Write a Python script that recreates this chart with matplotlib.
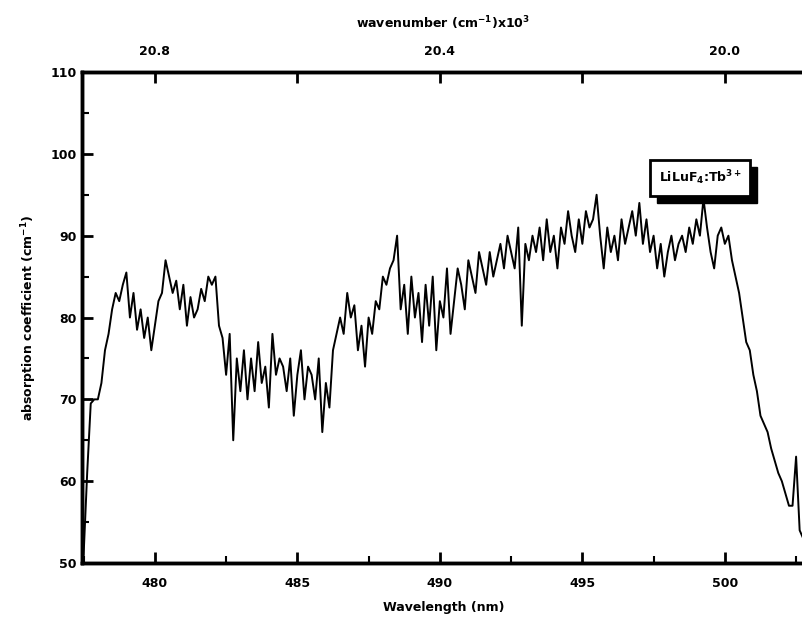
import numpy as np
import matplotlib

matplotlib.use('Agg')
import matplotlib.pyplot as plt
from matplotlib.ticker import MultipleLocator, FixedLocator, FixedFormatter
from matplotlib.patches import Rectangle

# wavelength grid (nm), one reading every 0.125 nm
wl_start = 477.5
wl_step = 0.125

# absorption, one row per nm
absorption = [
    51, 61, 69.5, 70, 70, 72, 76, 78,          # 477.5
    81, 83, 82, 84, 85.5, 80, 83, 78.5,        # 478.5
    81, 77.5, 80, 76, 79, 82, 83, 87,          # 479.5
    85, 83, 84.5, 81, 84, 79, 82.5, 80,        # 480.5
    81, 83.5, 82, 85, 84, 85, 79, 77.5,        # 481.5
    73, 78, 65, 75, 71, 76, 70, 75,            # 482.5
    71, 77, 72, 74, 69, 78, 73, 75,            # 483.5
    74, 71, 75, 68, 73, 76, 70, 74,            # 484.5
    73, 70, 75, 66, 72, 69, 76, 78,            # 485.5
    80, 78, 83, 80, 81.5, 76, 79, 74,          # 486.5
    80, 78, 82, 81, 85, 84, 86, 87,            # 487.5
    90, 81, 84, 78, 85, 80, 83, 77,            # 488.5
    84, 79, 85, 76, 82, 80, 86, 78,            # 489.5
    82, 86, 84, 81, 87, 85, 83, 88,            # 490.5
    86, 84, 88, 85, 87, 89, 86, 90,            # 491.5
    88, 86, 91, 79, 89, 87, 90, 88,            # 492.5
    91, 87, 92, 88, 90, 86, 91, 89,            # 493.5
    93, 90, 88, 92, 89, 93, 91, 92,            # 494.5
    95, 90, 86, 91, 88, 90, 87, 92,            # 495.5
    89, 91, 93, 90, 94, 89, 92, 88,            # 496.5
    90, 86, 89, 85, 88, 90, 87, 89,            # 497.5
    90, 88, 91, 89, 92, 90, 94.5, 91,          # 498.5
    88, 86, 90, 91, 89, 90, 87, 85,            # 499.5
    83, 80, 77, 76, 73, 71, 68, 67,            # 500.5
    66, 64, 62.5, 61, 60, 58.5, 57, 57,        # 501.5
    63, 54, 53,                                # 502.5
]

bottom_ticks = [480, 485, 490, 495, 500]
top_ticks = [480, 490, 500]
sample_label = 'LiLuF$_4$:Tb$^{3+}$'

wavelength = wl_start + wl_step * np.arange(len(absorption))
top_labels = ['%.1f' % (1e7 / w / 1e3) for w in top_ticks]

plt.rcParams['font.family'] = ['DejaVu Sans']
plt.rcParams['font.weight'] = 'bold'

fig = plt.figure(figsize=(8.03, 6.30), dpi=100)
ax = fig.add_axes([0.102, 0.1063, 0.9004, 0.7794])

ax.plot(wavelength, absorption, color='black', linewidth=1.4)

ax.set_xlim(477.44, 502.81)
ax.set_ylim(50, 110)

ax.xaxis.set_major_locator(FixedLocator(bottom_ticks))
ax.xaxis.set_minor_locator(MultipleLocator(2.5))
ax.yaxis.set_major_locator(MultipleLocator(10))
ax.yaxis.set_minor_locator(MultipleLocator(5))
ax.tick_params(which='major', direction='in', length=8, width=2, labelsize=9)
ax.tick_params(which='minor', direction='in', length=5, width=1.5)
ax.tick_params(axis='x', pad=10)
ax.tick_params(axis='y', pad=4)

for s in ax.spines.values():
    s.set_linewidth(2.5)

ax.set_xlabel('Wavelength (nm)', fontsize=9, fontweight='bold', labelpad=8)
ax.set_ylabel('absorption coefficient (cm$^{-1}$)', fontsize=9, fontweight='bold', labelpad=8)

# top axis in wavenumber
top = ax.twiny()
top.set_xlim(ax.get_xlim())
top.xaxis.set_major_locator(FixedLocator(top_ticks))
top.xaxis.set_major_formatter(FixedFormatter(top_labels))
top.xaxis.set_minor_locator(FixedLocator([485, 495]))
top.tick_params(which='major', direction='in', length=8, width=2, labelsize=9, pad=10)
top.tick_params(which='minor', direction='in', length=8, width=2)
top.set_xlabel('wavenumber (cm$^{-1}$)x10$^3$', fontsize=9, fontweight='bold', labelpad=12)
for s in top.spines.values():
    s.set_linewidth(2.5)

# label box with a solid shadow
label = top.text(0.855, 0.784, sample_label, transform=ax.transAxes, ha='center', va='center',
                 fontsize=9, fontweight='bold', color='black', zorder=5,
                 bbox=dict(boxstyle='square,pad=0.7', facecolor='white', edgecolor='black', linewidth=2))
fig.canvas.draw()
bb = label.get_bbox_patch().get_window_extent()
shadow = Rectangle((bb.x0 + 7, bb.y0 - 7), bb.width, bb.height, transform=None,
                   facecolor='black', edgecolor='black', zorder=4)
top.add_artist(shadow)

fig.savefig('out.png', dpi=100)
